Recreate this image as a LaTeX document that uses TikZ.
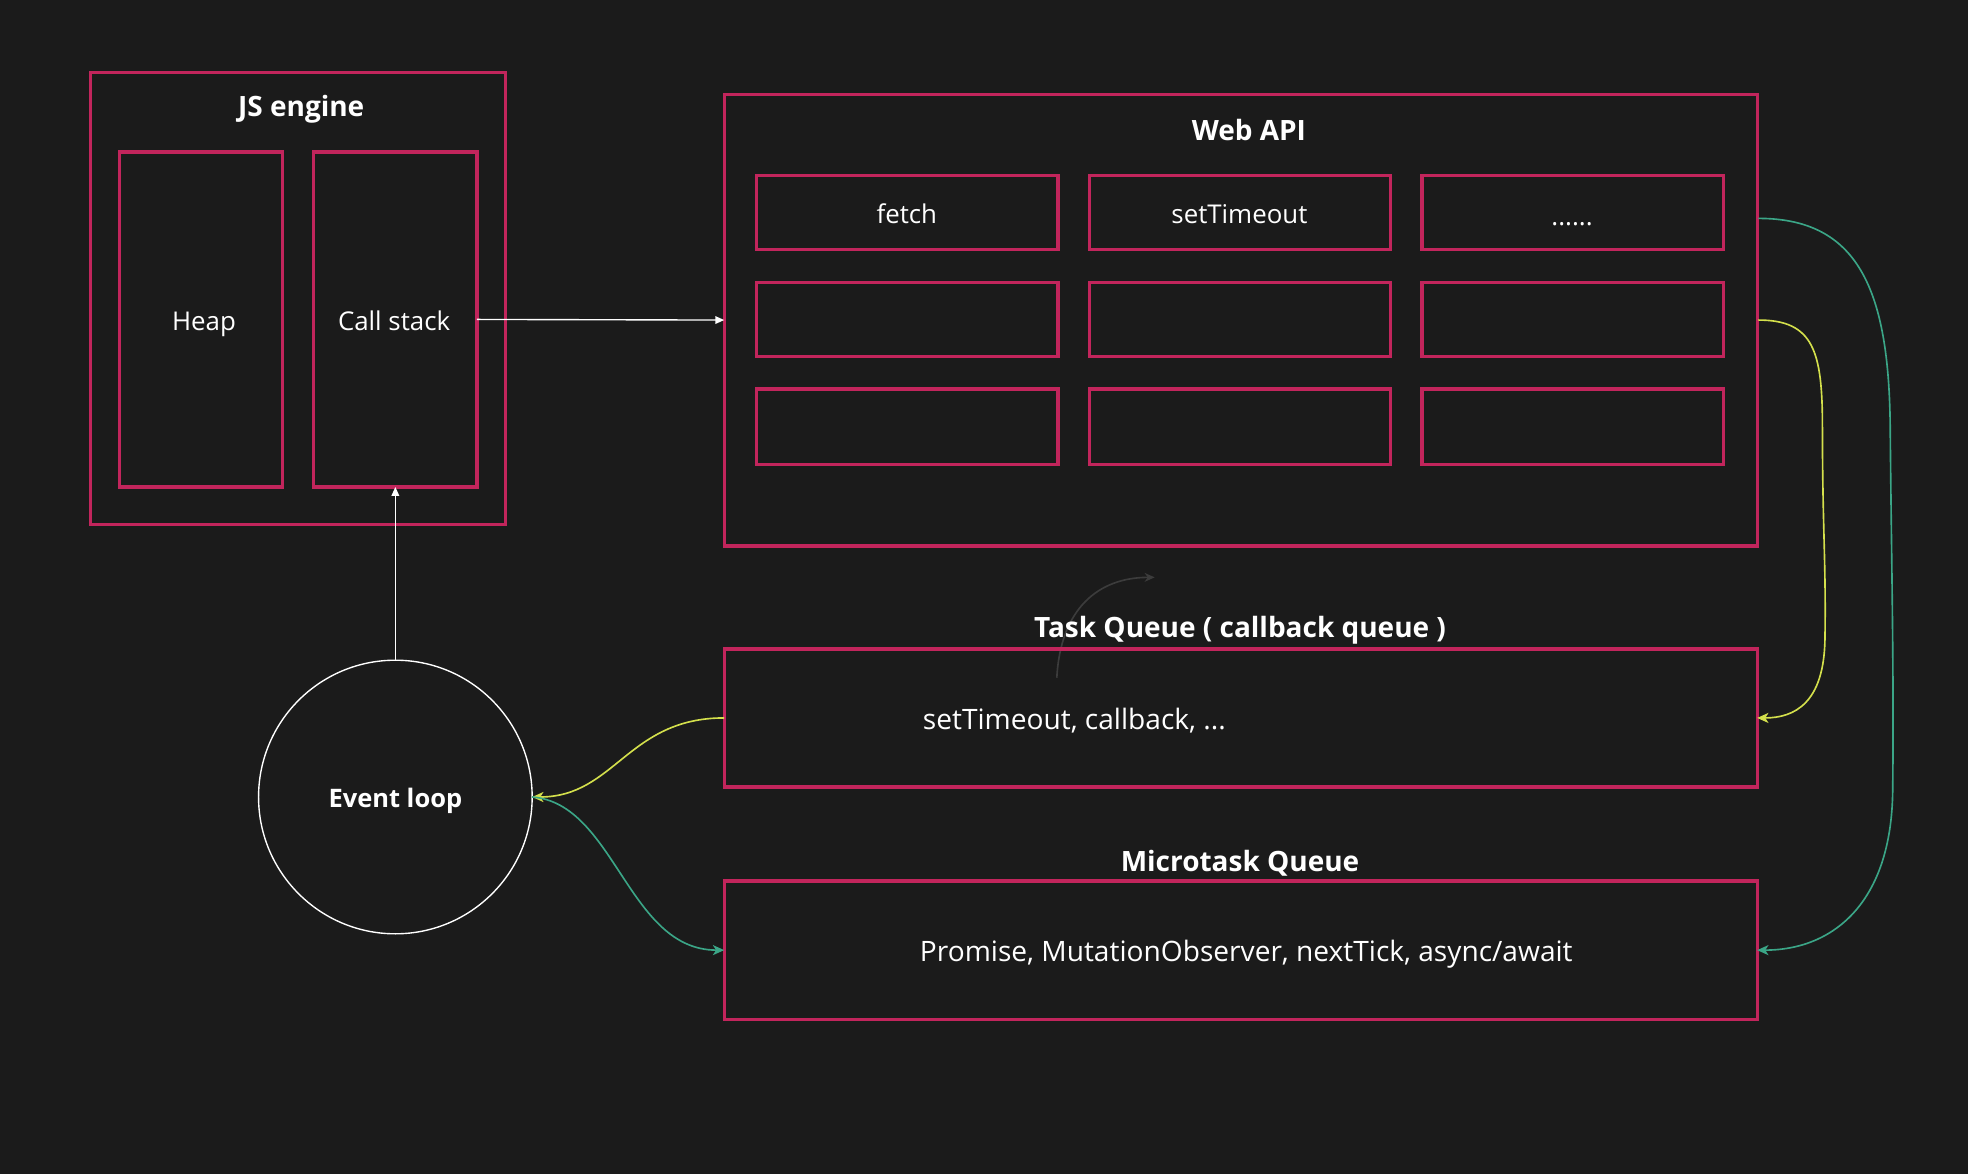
\documentclass[tikz,border=0pt]{standalone}
\usepackage{fontspec}
\setmainfont{Open Sans}
\usetikzlibrary{arrows.meta,calc}
\definecolor{bg}{HTML}{1B1B1B}
\definecolor{pinkc}{HTML}{C2255C}
\definecolor{yelc}{HTML}{D4E04C}
\definecolor{tealc}{HTML}{3BA687}
\definecolor{greyc}{HTML}{3C3C3C}
\tikzset{
  box/.style={draw=pinkc, line width=2.6pt, inner sep=0pt, outer sep=0pt},
  title/.style={text=white, font=\fontsize{22.3}{26}\selectfont\bfseries, inner sep=0pt, anchor=base},
  plain/.style={text=white, font=\fontsize{22.4}{26}\selectfont, inner sep=0pt, anchor=base},
  lbl/.style={text=white, font=\fontsize{20.6}{24}\selectfont, inner sep=0pt, anchor=base},
  wline/.style={draw=white, line width=1.1pt, -{Triangle[length=7pt,width=6pt]}},
  yline/.style={draw=yelc, line width=1.3pt, -{Stealth[length=9pt,width=8pt,inset=2.5pt]}},
  tline/.style={draw=tealc, line width=1.3pt, -{Stealth[length=9pt,width=8pt,inset=2.5pt]}},
  gline/.style={draw=greyc, line width=1.3pt, -{Stealth[length=8pt,width=7pt,inset=2.5pt]}},
}
\begin{document}
\begin{tikzpicture}[x=1pt,y=-1pt]
\fill[bg] (0,0) rectangle (1568,935);
\useasboundingbox (0,0) rectangle (1568,935);
% grey stray arrow (drawn first, lies beneath text and boxes)
\coordinate (gstart) at (842,540);
\coordinate (gend) at (920,460);
\draw[gline] (gstart) .. controls (845,485) and (875,460) .. (gend);
% JS engine
\node[box, minimum width=331pt, minimum height=360pt] (jsengine) at (237.5,238) {};
\node[title] (jstitle) at (240,93) {JS engine};
\node[box, minimum width=130pt, minimum height=267pt] (heap) at (160,254.5) {};
\node[lbl] (heaptext) at (162.5,263) {Heap};
\node[box, minimum width=130pt, minimum height=267pt] (callstack) at (315,254.5) {};
\node[lbl] (cstext) at (314,263) {Call stack};
% Web API
\node[box, minimum width=823pt, minimum height=360pt] (webapi) at (988.5,255) {};
\node[title] (webtitle) at (995,112) {Web API};
\node[box, minimum width=240pt, minimum height=59pt] (g11) at (723,169.5) {};
\node[box, minimum width=240pt, minimum height=59pt] (g12) at (988,169.5) {};
\node[box, minimum width=240pt, minimum height=59pt] (g13) at (1253,169.5) {};
\node[lbl] (t11) at (722.5,178) {fetch};
\node[lbl] (t12) at (987.5,178) {setTimeout};
\node[lbl] (t13) at (1252.5,180) {......};
\node[box, minimum width=240pt, minimum height=59pt] (g21) at (723,254.5) {};
\node[box, minimum width=240pt, minimum height=59pt] (g22) at (988,254.5) {};
\node[box, minimum width=240pt, minimum height=59pt] (g23) at (1253,254.5) {};
\node[box, minimum width=240pt, minimum height=60pt] (g31) at (723,340) {};
\node[box, minimum width=240pt, minimum height=60pt] (g32) at (988,340) {};
\node[box, minimum width=240pt, minimum height=60pt] (g33) at (1253,340) {};
% Task queue
\node[title] (tasktitle) at (988,508) {Task Queue ( callback queue )};
\node[box, minimum width=823pt, minimum height=110pt] (taskq) at (988.5,572) {};
\node[plain] (tasktext) at (856,581) {setTimeout, callback, ...};
% Microtask queue
\node[title] (microtitle) at (988,694) {Microtask Queue};
\node[box, minimum width=823pt, minimum height=110pt] (microq) at (988.5,757) {};
\node[plain] (microtext) at (993,766) {Promise, MutationObserver, nextTick, async/await};
% Event loop
\node[circle, draw=white, line width=1.1pt, minimum size=218pt, inner sep=0pt, outer sep=0pt] (eventloop) at (315,635) {};
\node[title, font=\fontsize{20.3}{24}\selectfont\bfseries] (eltext) at (315,643) {Event loop};
% connectors
\draw[wline] (callstack.east) -- (webapi.west);
\draw[wline] (eventloop.north) -- (callstack.south);
\draw[yline] (taskq.west) .. controls (500,572) and (490,635) .. (eventloop.east);
\draw[tline] (eventloop.east) .. controls (490,640) and (500,757) .. (microq.west);
\coordinate (ystart) at (1401,255);
\coordinate (tstart) at (1401,174);
\draw[yline] (ystart) .. controls (1445,255) and (1452,280) .. (1452,340) .. controls (1452,420) and (1455,450) .. (1454,510) .. controls (1453,560) and (1430,572) .. (taskq.east);
\draw[tline] (tstart) .. controls (1480,174) and (1505,230) .. (1506,340) .. controls (1507,450) and (1509,530) .. (1508,630) .. controls (1507,720) and (1460,757) .. (microq.east);
\end{tikzpicture}
\end{document}
